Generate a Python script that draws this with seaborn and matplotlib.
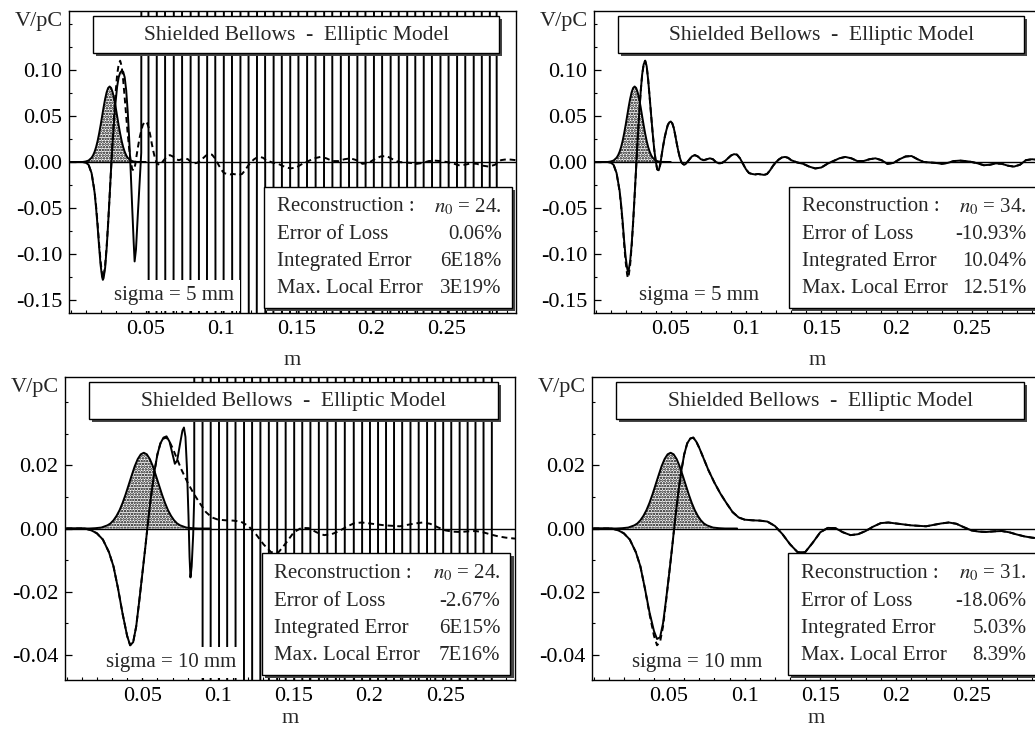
import matplotlib
matplotlib.use("Agg")
import matplotlib.pyplot as plt
import seaborn as sns
from matplotlib.patches import Rectangle
from matplotlib.transforms import offset_copy
from matplotlib.ticker import FixedLocator, MultipleLocator

# ---------------------------------------------------------------- data
# Gaussian bunch, sigma = 5 mm
bunch5_x = [0.000, 0.008, 0.010, 0.012, 0.014, 0.015, 0.016, 0.017, 0.018, 0.019,
            0.020, 0.021, 0.022, 0.023, 0.024, 0.025, 0.026, 0.027, 0.028, 0.029,
            0.030, 0.031, 0.032, 0.033, 0.034, 0.035, 0.036, 0.037, 0.038, 0.040,
            0.042, 0.044, 0.050]
bunch5_y = [0.0, 0.0, 0.0005, 0.0016, 0.0046, 0.0073, 0.0111, 0.0162, 0.0228, 0.0308,
            0.0399, 0.0497, 0.0596, 0.0685, 0.0757, 0.0804, 0.0820, 0.0804, 0.0757, 0.0685,
            0.0596, 0.0497, 0.0399, 0.0308, 0.0228, 0.0162, 0.0111, 0.0073, 0.0046, 0.0016,
            0.0005, 0.0001, 0.0]

# Gaussian bunch, sigma = 10 mm
bunch10_x = [0.000, 0.015, 0.019, 0.023, 0.027, 0.029, 0.031, 0.033, 0.035, 0.037,
             0.039, 0.041, 0.043, 0.045, 0.047, 0.049, 0.051, 0.053, 0.055, 0.057,
             0.059, 0.061, 0.063, 0.065, 0.067, 0.069, 0.071, 0.073, 0.075, 0.079,
             0.083, 0.087, 0.095]
bunch10_y = [0.0, 0.0, 0.0001, 0.0003, 0.0010, 0.0016, 0.0026, 0.0040, 0.0058, 0.0081,
             0.0108, 0.0138, 0.0168, 0.0197, 0.0220, 0.0235, 0.0240, 0.0235, 0.0220, 0.0197,
             0.0168, 0.0138, 0.0108, 0.0081, 0.0058, 0.0040, 0.0026, 0.0016, 0.0010, 0.0003,
             0.0001, 0.0, 0.0]

# Wake potential, sigma = 5 mm (direct computation)
wake5_x = [0.000, 0.008, 0.010, 0.012, 0.014, 0.016, 0.017, 0.018, 0.019, 0.020,
           0.021, 0.0215, 0.022, 0.023, 0.024, 0.025, 0.026, 0.027, 0.028, 0.029,
           0.030, 0.031, 0.032, 0.033, 0.034, 0.035, 0.036, 0.037, 0.038, 0.039,
           0.040, 0.041, 0.042, 0.043, 0.044, 0.045, 0.046, 0.047, 0.048, 0.049,
           0.050, 0.051, 0.052, 0.053, 0.054, 0.055, 0.056, 0.057, 0.058, 0.059,
           0.060, 0.062, 0.064, 0.066, 0.068, 0.070, 0.072, 0.074, 0.076, 0.078,
           0.080, 0.082, 0.084, 0.086, 0.088, 0.090, 0.092, 0.094, 0.096, 0.098,
           0.100, 0.102, 0.104, 0.106, 0.108, 0.110, 0.112, 0.114, 0.116, 0.118,
           0.120, 0.122, 0.124, 0.126, 0.128, 0.130, 0.134, 0.138, 0.142, 0.146,
           0.150, 0.154, 0.158, 0.162, 0.166, 0.170, 0.174, 0.178, 0.182, 0.186,
           0.190, 0.194, 0.198, 0.202, 0.206, 0.210, 0.214, 0.218, 0.222, 0.226,
           0.230, 0.234, 0.238, 0.242, 0.246, 0.250, 0.254, 0.258, 0.262, 0.266,
           0.270, 0.274, 0.278, 0.282, 0.286, 0.290, 0.296]
wake5_y = [0.0, 0.0, -0.0005, -0.003, -0.012, -0.032, -0.048, -0.067, -0.089, -0.108,
           -0.122, -0.126, -0.124, -0.112, -0.092, -0.066, -0.037, -0.006, 0.025, 0.052,
           0.076, 0.095, 0.106, 0.110, 0.104, 0.089, 0.070, 0.050, 0.031, 0.014,
           0.001, -0.008, -0.009, -0.003, 0.008, 0.018, 0.027, 0.034, 0.040, 0.043,
           0.044, 0.042, 0.037, 0.029, 0.020, 0.012, 0.005, 0.000, -0.002, -0.003,
           -0.002, 0.002, 0.006, 0.0075, 0.006, 0.003, 0.002, 0.003, 0.004, 0.003,
           0.000, -0.0015, -0.001, 0.001, 0.004, 0.007, 0.0085, 0.008, 0.004, -0.002,
           -0.008, -0.012, -0.013, -0.0135, -0.013, -0.0135, -0.014, -0.013, -0.009, -0.004,
           0.000, 0.003, 0.005, 0.0055, 0.0045, 0.002, -0.0005, -0.002, -0.005, -0.007,
           -0.006, -0.002, 0.001, 0.004, 0.0055, 0.004, 0.001, 0.001, 0.003, 0.004,
           0.002, -0.002, -0.001, 0.003, 0.006, 0.0065, 0.003, 0.000, -0.0005, -0.001,
           -0.002, -0.001, 0.001, 0.0015, 0.001, 0.000, -0.0015, -0.0035, -0.003, -0.0015,
           -0.002, -0.004, -0.005, -0.003, 0.002, 0.003, 0.002]

# Reconstruction with n0 = 34, sigma = 5 mm
rec34_y = [0.0, 0.0, -0.0005, -0.003, -0.012, -0.031, -0.046, -0.064, -0.085, -0.103,
           -0.115, -0.119, -0.118, -0.108, -0.090, -0.065, -0.036, -0.006, 0.025, 0.052,
           0.076, 0.095, 0.106, 0.110, 0.104, 0.089, 0.070, 0.050, 0.031, 0.014,
           0.001, -0.008, -0.009, -0.003, 0.008, 0.018, 0.027, 0.034, 0.040, 0.043,
           0.044, 0.042, 0.037, 0.029, 0.020, 0.012, 0.005, 0.000, -0.002, -0.003,
           -0.002, 0.002, 0.006, 0.0075, 0.006, 0.003, 0.002, 0.003, 0.004, 0.003,
           0.000, -0.0015, -0.001, 0.001, 0.004, 0.007, 0.0085, 0.008, 0.004, -0.002,
           -0.008, -0.012, -0.013, -0.0135, -0.013, -0.0135, -0.014, -0.013, -0.009, -0.004,
           0.000, 0.003, 0.005, 0.0055, 0.0045, 0.002, -0.0005, -0.002, -0.005, -0.007,
           -0.006, -0.002, 0.001, 0.004, 0.0055, 0.004, 0.001, 0.001, 0.003, 0.004,
           0.002, -0.002, -0.001, 0.003, 0.006, 0.0065, 0.003, 0.000, -0.0005, -0.001,
           -0.002, -0.001, 0.001, 0.0015, 0.001, 0.000, -0.0015, -0.0035, -0.003, -0.0015,
           -0.002, -0.004, -0.005, -0.003, 0.002, 0.003, 0.002]

# Reconstruction with n0 = 24, sigma = 5 mm (diverges beyond 0.045 m)
rec24a_x = [0.000, 0.008, 0.010, 0.012, 0.014, 0.016, 0.017, 0.018, 0.019, 0.020,
            0.021, 0.0215, 0.022, 0.023, 0.024, 0.025, 0.026, 0.027, 0.028, 0.029,
            0.030, 0.031, 0.032, 0.033, 0.034, 0.035, 0.036, 0.037, 0.038, 0.039,
            0.040, 0.041, 0.042, 0.0426, 0.0435, 0.0448, 0.0460, 0.0470,
            0.0493, 0.0544, 0.0601, 0.0657, 0.0714, 0.0770, 0.0825, 0.0880, 0.0935, 0.0990,
            0.1046, 0.1101, 0.1156, 0.1211, 0.1266, 0.1321, 0.1377, 0.1432, 0.1487, 0.1543,
            0.1600, 0.1657, 0.1712, 0.1768, 0.1823, 0.1878, 0.1933, 0.1988, 0.2043, 0.2099,
            0.2154, 0.2209, 0.2264, 0.2319, 0.2374, 0.2430, 0.2485, 0.2540, 0.2596, 0.2651,
            0.2706, 0.2761, 0.2810, 0.2854]
rec24a_y = [0.0, 0.0, -0.0005, -0.003, -0.012, -0.033, -0.050, -0.070, -0.092, -0.112,
            -0.125, -0.128, -0.126, -0.115, -0.094, -0.067, -0.037, -0.006, 0.022, 0.046,
            0.066, 0.082, 0.092, 0.097, 0.099, 0.098, 0.092, 0.078, 0.055, 0.025,
            -0.010, -0.050, -0.088, -0.108, -0.095, -0.055, -0.020, 0.010,
            5.0, -5.0, 5.0, -5.0, 5.0, -5.0, 5.0, -5.0, 5.0, -5.0,
            5.0, -5.0, 5.0, -5.0, 5.0, -5.0, 5.0, -5.0, 5.0, -5.0,
            5.0, -5.0, 5.0, -5.0, 5.0, -5.0, 5.0, -5.0, 5.0, -5.0,
            5.0, -5.0, 5.0, -5.0, 5.0, -5.0, 5.0, -5.0, 5.0, -5.0,
            5.0, -5.0, 5.0, -5.0]

# Wake potential, sigma = 10 mm (direct computation)
wake10_x = [0.000, 0.012, 0.016, 0.020, 0.024, 0.028, 0.031, 0.034, 0.037, 0.040,
            0.042, 0.044, 0.046, 0.048, 0.050, 0.052, 0.054, 0.056, 0.058, 0.060,
            0.062, 0.064, 0.066, 0.068, 0.070, 0.073, 0.076, 0.080, 0.084, 0.088,
            0.092, 0.096, 0.100, 0.105, 0.110, 0.115, 0.120, 0.125, 0.130, 0.135,
            0.140, 0.145, 0.150, 0.155, 0.160, 0.165, 0.170, 0.175, 0.180, 0.185,
            0.190, 0.195, 0.200, 0.210, 0.220, 0.230, 0.235, 0.240, 0.245, 0.250,
            0.255, 0.260, 0.265, 0.270, 0.275, 0.280, 0.285, 0.290, 0.296]
wake10_y = [0.0, 0.0, -0.0005, -0.0015, -0.0035, -0.0075, -0.012, -0.019, -0.027, -0.034,
            -0.037, -0.036, -0.031, -0.023, -0.0145, -0.006, 0.003, 0.011, 0.018, 0.0235,
            0.027, 0.0285, 0.0288, 0.0275, 0.0255, 0.022, 0.0185, 0.0145, 0.011, 0.008,
            0.0052, 0.0035, 0.0028, 0.0026, 0.0025, 0.0022, 0.0008, -0.0018, -0.005, -0.0075,
            -0.0075, -0.0045, -0.0012, 0.0002, 0.0001, -0.0012, -0.0021, -0.0018, -0.0008, 0.0006,
            0.0017, 0.0019, 0.0016, 0.0010, 0.0007, 0.0016, 0.0019, 0.0015, 0.0004, -0.0006,
            -0.0010, -0.0011, -0.0009, -0.0008, -0.0012, -0.0019, -0.0025, -0.0029, -0.0032]

# Reconstruction with n0 = 31, sigma = 10 mm
rec31_y = [0.0, 0.0, -0.0005, -0.0015, -0.0035, -0.0075, -0.012, -0.019, -0.0265, -0.0325,
           -0.0350, -0.0345, -0.0300, -0.0225, -0.0145, -0.006, 0.003, 0.011, 0.018, 0.0235,
           0.027, 0.0285, 0.0288, 0.0275, 0.0255, 0.022, 0.0185, 0.0145, 0.011, 0.008,
           0.0052, 0.0035, 0.0028, 0.0026, 0.0025, 0.0022, 0.0008, -0.0018, -0.005, -0.0075,
           -0.0075, -0.0045, -0.0012, 0.0002, 0.0001, -0.0012, -0.0021, -0.0018, -0.0008, 0.0006,
           0.0017, 0.0019, 0.0016, 0.0010, 0.0007, 0.0016, 0.0019, 0.0015, 0.0004, -0.0006,
           -0.0010, -0.0011, -0.0009, -0.0008, -0.0012, -0.0019, -0.0025, -0.0029, -0.0032]

# Reconstruction with n0 = 24, sigma = 10 mm (diverges beyond 0.083 m)
rec24b_x = [0.000, 0.012, 0.016, 0.020, 0.024, 0.028, 0.031, 0.034, 0.037, 0.040,
            0.042, 0.044, 0.046, 0.048, 0.050, 0.052, 0.054, 0.056, 0.058, 0.060,
            0.062, 0.064, 0.066, 0.068, 0.070, 0.0715, 0.073, 0.075, 0.0765, 0.0775,
            0.0785, 0.0795, 0.0805, 0.0812, 0.0818, 0.0826, 0.0836, 0.0843,
            0.0872, 0.0924, 0.0979, 0.1034, 0.1087, 0.1144, 0.1199, 0.1251, 0.1308, 0.1363,
            0.1418, 0.1475, 0.1530, 0.1582, 0.1637, 0.1694, 0.1749, 0.1806, 0.1867, 0.1925,
            0.1977, 0.2029, 0.2083, 0.2135, 0.2188, 0.2243, 0.2297, 0.2352, 0.2407, 0.2460,
            0.2512, 0.2567, 0.2622, 0.2673, 0.2725, 0.2780, 0.2834]
rec24b_y = [0.0, 0.0, -0.0005, -0.0015, -0.0035, -0.0075, -0.012, -0.019, -0.027, -0.034,
            -0.037, -0.036, -0.031, -0.023, -0.0145, -0.006, 0.003, 0.011, 0.018, 0.0235,
            0.027, 0.0288, 0.0292, 0.0275, 0.0235, 0.0205, 0.0215, 0.027, 0.031, 0.032,
            0.029, 0.019, 0.004, -0.009, -0.0155, -0.012, -0.002, 0.010,
            5.0, -5.0, 5.0, -5.0, 5.0, -5.0, 5.0, -5.0, 5.0, -5.0,
            5.0, -5.0, 5.0, -5.0, 5.0, -5.0, 5.0, -5.0, 5.0, -5.0,
            5.0, -5.0, 5.0, -5.0, 5.0, -5.0, 5.0, -5.0, 5.0, -5.0,
            5.0, -5.0, 5.0, -5.0, 5.0, -5.0, 5.0]

# Axis ticks and labels
x_ticks = [0.05, 0.10, 0.15, 0.20, 0.25]
x_tick_labels = ["0.05", "0.1", "0.15", "0.2", "0.25"]
y_ticks_top = [-0.15, -0.10, -0.05, 0.00, 0.05, 0.10]
y_labels_top = ["-0.15", "-0.10", "-0.05", "0.00", "0.05", "0.10"]
y_ticks_bottom = [-0.04, -0.02, 0.00, 0.02]
y_labels_bottom = ["-0.04", "-0.02", "0.00", "0.02"]

title_text = "Shielded Bellows  -  Elliptic Model"
info_labels = ["Reconstruction :", "Error of Loss", "Integrated Error", "Max. Local Error"]
info_tl = ["$n_0$ = 24.", "0.06%", "6E18%", "3E19%"]
info_tr = ["$n_0$ = 34.", "-10.93%", "10.04%", "12.51%"]
info_bl = ["$n_0$ = 24.", "-2.67%", "6E15%", "7E16%"]
info_br = ["$n_0$ = 31.", "-18.06%", "5.03%", "8.39%"]

# ---------------------------------------------------------------- style
sns.set_theme(style="ticks")
plt.rcParams["font.family"] = ["Liberation Serif", "DejaVu Serif"]
plt.rcParams["mathtext.fontset"] = "stix"
plt.rcParams["hatch.linewidth"] = 1.2
plt.rcParams["hatch.color"] = "black"
plt.rcParams["axes.edgecolor"] = "black"
plt.rcParams["axes.linewidth"] = 1.0

FS = 15
TICK_FS = 16
W, H = 1035, 731
fig = plt.figure(figsize=(W / 100, H / 100), dpi=100)
fig.patch.set_facecolor("white")


def add_axes(left, top, width, height):
    return fig.add_axes([left / W, 1 - (top + height) / H, width / W, height / H])


def shadow_box(ax, x0, y0, x1, y1):
    shadow_tr = offset_copy(ax.transAxes, fig=fig, x=3, y=-3, units="dots")
    ax.add_patch(Rectangle((x0, y0), x1 - x0, y1 - y0, transform=shadow_tr,
                           facecolor="#444444", edgecolor="none", zorder=6, clip_on=False))
    ax.add_patch(Rectangle((x0, y0), x1 - x0, y1 - y0, transform=ax.transAxes,
                           facecolor="white", edgecolor="black", lw=1.0, zorder=7, clip_on=False))


def draw_panel(ax, bx, by, sx, sy, dx, dy, ylim, yt, ylab, yminor, sigma_txt, values, xpad):
    ax.fill_between(bx, 0, by, facecolor="white", edgecolor="black", hatch="......",
                    linewidth=0, zorder=1)
    sns.lineplot(x=bx, y=by, ax=ax, color="black", lw=1.4, estimator=None, sort=False, zorder=2)
    sns.lineplot(x=dx, y=dy, ax=ax, color="black", lw=1.4, linestyle=(0, (3, 2)),
                 estimator=None, sort=False, zorder=3)
    sns.lineplot(x=sx, y=sy, ax=ax, color="black", lw=1.4, estimator=None, sort=False, zorder=3)
    ax.axhline(0, color="black", lw=1.0, zorder=4)

    ax.set_xlim(-0.001, 0.296)
    ax.set_ylim(*ylim)
    ax.xaxis.set_major_locator(FixedLocator(x_ticks))
    ax.set_xticklabels(x_tick_labels)
    ax.xaxis.set_minor_locator(MultipleLocator(0.01))
    ax.yaxis.set_major_locator(FixedLocator(yt))
    ax.set_yticklabels(ylab)
    ax.yaxis.set_minor_locator(MultipleLocator(yminor))
    ax.tick_params(which="both", direction="in", left=True, bottom=True, top=False,
                   right=False, labelsize=TICK_FS, pad=5, colors="black")
    ax.tick_params(which="major", length=5, width=0.9)
    ax.tick_params(which="minor", length=2.5, width=0.8)
    for s in ax.spines.values():
        s.set_visible(True)
        s.set_color("black")
        s.set_linewidth(1.0)
    ax.set_xlabel("m", fontsize=TICK_FS, labelpad=xpad)
    ax.set_ylabel("")
    ax.text(-0.068, 0.965, "V/pC", transform=ax.transAxes, ha="center", va="center",
            fontsize=TICK_FS)

    # title box
    shadow_box(ax, 0.054, 0.862, 0.962, 0.983)
    ax.text(0.508, 0.918, title_text, transform=ax.transAxes, ha="center", va="center",
            fontsize=FS + 0.5, zorder=8)

    # statistics box
    shadow_box(ax, 0.437, 0.015, 0.99, 0.418)
    ys = [0.352, 0.260, 0.170, 0.080]
    for lab, val, yy in zip(info_labels, values, ys):
        ax.text(0.465, yy, lab, transform=ax.transAxes, ha="left", va="center",
                fontsize=FS, zorder=8)
        ax.text(0.968, yy, val, transform=ax.transAxes, ha="right", va="center",
                fontsize=FS, zorder=8)

    ax.text(0.235, 0.058, sigma_txt, transform=ax.transAxes, ha="center", va="center",
            fontsize=FS, zorder=8,
            bbox=dict(facecolor="white", edgecolor="none", pad=4))


ax_tl = add_axes(69, 11, 447, 302)
ax_tr = add_axes(594, 11, 447, 302)
ax_bl = add_axes(65, 377, 450, 303)
ax_br = add_axes(592, 377, 449, 303)

draw_panel(ax_tl, bunch5_x, bunch5_y, rec24a_x, rec24a_y, wake5_x, wake5_y,
           (-0.164, 0.164), y_ticks_top, y_labels_top, 0.025, "sigma = 5 mm", info_tl, 9)
draw_panel(ax_tr, bunch5_x, bunch5_y, wake5_x, rec34_y, wake5_x, wake5_y,
           (-0.164, 0.164), y_ticks_top, y_labels_top, 0.025, "sigma = 5 mm", info_tr, 9)
draw_panel(ax_bl, bunch10_x, bunch10_y, rec24b_x, rec24b_y, wake10_x, wake10_y,
           (-0.048, 0.048), y_ticks_bottom, y_labels_bottom, 0.01, "sigma = 10 mm", info_bl, 2)
draw_panel(ax_br, bunch10_x, bunch10_y, wake10_x, rec31_y, wake10_x, wake10_y,
           (-0.048, 0.048), y_ticks_bottom, y_labels_bottom, 0.01, "sigma = 10 mm", info_br, 2)

fig.savefig("out.png", dpi=100)
